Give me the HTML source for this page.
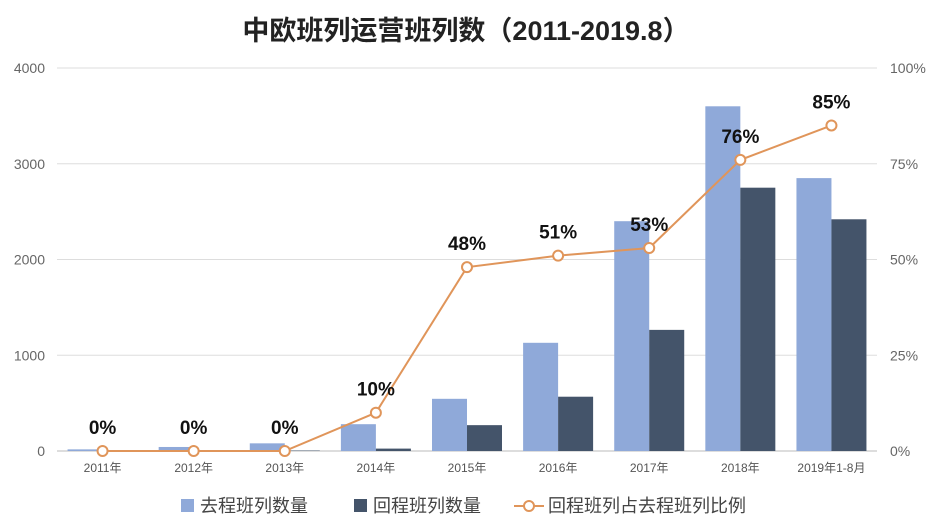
<!DOCTYPE html>
<html><head><meta charset="utf-8"><style>
body{margin:0;background:#fff;}
svg{display:block;font-family:"Liberation Sans","Noto Sans CJK SC",sans-serif;}
</style></head><body>
<svg id="chart" width="933" height="525">
<text x="466" y="40" text-anchor="middle" font-size="27" font-weight="bold" fill="#222">中欧班列运营班列数（2011-2019.8）</text>
<g id="grid"></g><g id="bars"></g><g id="line"></g><g id="labels"></g>
<g>
<rect x="181" y="499" width="13" height="13" fill="#8fa9d9"/>
<text x="200" y="512" font-size="18" fill="#444">去程班列数量</text>
<rect x="354" y="499" width="13" height="13" fill="#44546a"/>
<text x="373" y="512" font-size="18" fill="#444">回程班列数量</text>
<line x1="514" y1="506" x2="544" y2="506" stroke="#e0955a" stroke-width="2"/>
<circle cx="529" cy="506" r="5" fill="#fff" stroke="#e0955a" stroke-width="2"/>
<text x="548" y="512" font-size="18" fill="#444">回程班列占去程班列比例</text>
</g>
</svg>
<script>
const categories=["2011年","2012年","2013年","2014年","2015年","2016年","2017年","2018年","2019年1-8月"];
const outbound=[17,42,80,280,545,1130,2400,3600,2850];
const inbound=[2,3,5,25,270,567,1265,2750,2420];
const ratio=[0,0,0,10,48,51,53,76,85];
const leftTicks=[0,1000,2000,3000,4000];
const rightTicks=[0,25,50,75,100];
const NS="http://www.w3.org/2000/svg";
const X0=57,X1=877,Y0=451,Y1=68,step=(X1-X0)/categories.length,bw=35;
const yL=v=>Y0-(v/4000)*(Y0-Y1);
const yR=v=>Y0-(v/100)*(Y0-Y1);
const xC=i=>X0+step*(i+0.5);
function mk(tag,attrs,parent,txt){const e=document.createElementNS(NS,tag);for(const k in attrs)e.setAttribute(k,attrs[k]);if(txt!==undefined)e.textContent=txt;document.getElementById(parent).appendChild(e);return e;}
leftTicks.forEach((t,i)=>{
 const l=mk('line',{x1:X0,x2:X1,y1:yL(t),y2:yL(t),stroke:t===0?'#bbb':'#ddd','stroke-width':1},'grid');
 
 
 const a=mk('text',{x:45,y:yL(t)+5,'text-anchor':'end','font-size':14,fill:'#666'},'grid',t);
 
 
});
rightTicks.forEach(t=>{
 const a=mk('text',{x:890,y:yR(t)+5,'font-size':14,fill:'#666'},'grid',t+'%');
 
 
});
categories.forEach((c,i)=>{
 const a=mk('text',{x:xC(i),y:472,'text-anchor':'middle','font-size':12,fill:'#555'},'grid',c);
 
 
 const b1=mk('rect',{x:xC(i)-bw,y:yL(outbound[i]),width:bw,height:Y0-yL(outbound[i]),fill:'#8fa9d9'},'bars');
 
 
 const b2=mk('rect',{x:xC(i),y:yL(inbound[i]),width:bw,height:Y0-yL(inbound[i]),fill:'#44546a'},'bars');
 
 
});
const pts=ratio.map((v,i)=>xC(i)+','+yR(v)).join(' ');
const pl=mk('polyline',{points:pts,fill:'none',stroke:'#e0955a','stroke-width':2},'line');


ratio.forEach((v,i)=>{
 const c=mk('circle',{cx:xC(i),cy:yR(v),r:5,fill:'#fff',stroke:'#e0955a','stroke-width':2},'line');
 
 
 const t=mk('text',{x:xC(i),y:yR(v)-17,'text-anchor':'middle','font-size':19,'font-weight':'bold',fill:'#111'},'labels',v+'%');
 
 
});
</script>
</body></html>
